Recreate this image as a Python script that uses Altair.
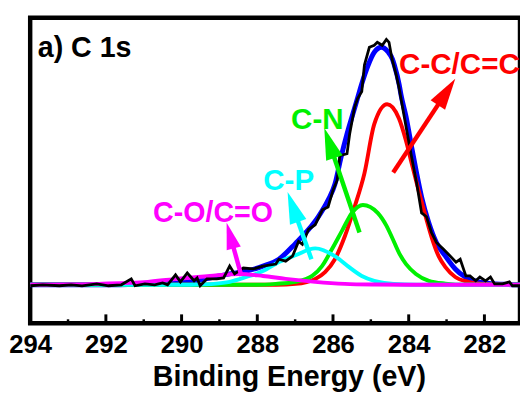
import math
import altair as alt
import pandas as pd

# ---------------- data ----------------
# measured spectrum (black)
raw_be = [294.0, 293.67, 293.23, 292.92, 292.63, 292.24, 291.93, 291.59, 291.33, 291.23,
          290.97, 290.71, 290.50, 290.37, 290.16, 290.03, 289.85, 289.67, 289.59, 289.51,
          289.33, 289.07, 288.89, 288.73, 288.60, 288.37, 288.11, 287.85, 287.51, 287.43,
          287.25, 287.07, 286.91, 286.81, 286.65, 286.47, 286.28, 286.13, 286.00, 285.89,
          285.82, 285.63, 285.56, 285.43, 285.35, 285.24, 285.17, 285.04, 284.91, 284.83,
          284.70, 284.59, 284.52, 284.44, 284.33, 284.25, 284.13, 284.05, 283.92, 283.79,
          283.66, 283.53, 283.40, 283.27, 283.08, 282.90, 282.75, 282.64, 282.49, 282.38,
          282.23, 282.12, 281.97, 281.84, 281.73, 281.52, 281.34, 281.26, 281.06]
raw_int = [-0.4, 0.0, -0.4, 0.0, -0.4, 0.4, -0.4, 0.0, 2.5, -0.4,
           0.4, 0.0, 0.8, 0.0, 4.2, 1.25, 5.0, 1.7, 2.9, -0.4,
           2.5, 2.5, 2.9, 7.9, 4.6, 7.1, 6.7, 7.9, 8.75, 10.8,
           10.0, 12.1, 18.3, 17.1, 23.3, 25.4, 31.7, 32.9, 40.0, 44.2,
           54.6, 55.4, 63.75, 75.0, 78.75, 81.7, 92.9, 100.4, 101.25, 102.5,
           101.25, 103.75, 102.5, 95.4, 88.75, 82.9, 72.1, 65.0, 53.75, 42.9,
           30.4, 28.75, 22.1, 17.9, 15.0, 12.1, 9.6, 10.8, 3.75, 3.75,
           1.7, 3.3, 1.7, 3.3, 0.4, 0.4, 1.25, -0.4, -0.4]

# fitted envelope (blue)
env_be = [294.0, 292.0, 291.0, 290.03, 289.59, 289.15, 288.73, 288.29, 287.85, 287.43,
          286.99, 286.65, 286.39, 286.13, 285.95, 285.79, 285.63, 285.48, 285.35, 285.24,
          285.08, 284.90, 284.72, 284.55, 284.43, 284.38, 284.25, 284.20, 284.07, 283.92,
          283.79, 283.66, 283.47, 283.27, 283.03, 282.77, 282.51, 282.25, 282.0, 281.5, 281.06]
env_int = [0.0, 0.0, 0.3, 0.8, 1.7, 3.3, 4.6, 5.8, 7.9, 10.8,
           17.5, 23.3, 28.75, 35.8, 42.5, 53.75, 63.75, 72.0, 79.0, 85.0,
           92.5, 98.5, 100.4, 98.5, 95.4, 92.9, 84.5, 80.0, 71.0, 58.0,
           47.1, 37.1, 26.25, 17.9, 12.1, 6.7, 3.3, 1.7, 0.8, 0.2, 0.0]

# C-C/C=C component (red)
cc_be = [294.0, 287.5, 286.99, 286.47, 286.21, 285.95, 285.69, 285.43, 285.17, 284.91,
         284.57, 284.26, 284.07, 283.92, 283.74, 283.55, 283.40, 283.21, 283.03, 282.77,
         282.43, 282.0, 281.06]
cc_int = [0.0, 0.0, 0.4, 2.5, 5.4, 10.8, 20.4, 32.9, 47.1, 67.9,
          76.3, 70.4, 60.8, 51.25, 40.0, 28.75, 20.4, 12.1, 7.5, 3.3,
          1.25, 0.3, 0.0]

# C-N component (green)
cn_be = [294.0, 288.0, 287.51, 286.99, 286.55, 286.29, 286.03, 285.76, 285.50, 285.21,
         284.82, 284.59, 284.44, 284.25, 284.07, 283.81, 283.47, 283.03, 282.5, 281.06]
cn_int = [0.0, 0.0, 0.4, 1.25, 3.75, 7.9, 15.0, 22.9, 30.4, 33.75,
          30.4, 25.0, 20.0, 13.3, 8.75, 4.6, 1.7, 0.5, 0.0, 0.0]

# C-P component (cyan)
cp_be = [294.0, 290.0, 289.59, 289.15, 288.73, 288.29, 287.85, 287.43, 286.99, 286.47,
         285.95, 285.61, 285.24, 284.91, 284.65, 284.1, 283.5, 281.06]
cp_int = [0.0, 0.0, 0.1, 0.4, 1.25, 3.3, 5.8, 9.6, 12.5, 15.4,
          12.1, 7.9, 3.75, 1.7, 0.8, 0.1, 0.0, 0.0]

# C-O/C=O component (magenta)
co_be = [294.0, 293.0, 292.19, 290.89, 290.11, 289.25, 288.47, 287.85, 287.25, 286.47,
         285.69, 284.9, 284.0, 281.06]
co_int = [0.0, 0.1, 0.4, 1.25, 2.5, 3.75, 4.6, 3.75, 2.5, 1.25,
          0.4, 0.1, 0.0, 0.0]

# annotations: label, text anchor (eV, intensity), arrow tail, arrow tip, colour
labels = ["C-C/C=C", "C-N", "C-P", "C-O/C=O"]
label_be = [282.66, 286.415, 287.17, 289.17]
label_int = [89.2, 65.8, 40.0, 26.7]
label_size = [30, 30, 30, 29]
tail_be = [284.41, 285.30, 286.57, 288.42]
tail_int = [47.5, 22.1, 10.8, 3.75]
tip_be = [282.77, 286.23, 287.20, 288.81]
tip_int = [87.1, 66.25, 39.2, 26.25]
label_colors = ["#ff0000", "#00f000", "#00ffff", "#ff00ff"]

panel_text = "a) C 1s"
major_ticks = [294, 292, 290, 288, 286, 284, 282]
minor_ticks = [293, 291, 289, 287, 285, 283, 281]

# ---------------- layout ----------------
X_MIN, X_MAX = 281.06, 294.0
Y_MIN, Y_MAX = -16.25, 112.9
W, H = 497, 310
PX_EV = W / (X_MAX - X_MIN)
PX_U = H / (Y_MAX - Y_MIN)
FONT = "Liberation Sans"

xs = alt.Scale(domain=[X_MIN, X_MAX], reverse=True, nice=False, zero=False)
ys = alt.Scale(domain=[Y_MIN, Y_MAX], nice=False, zero=False)

xaxis = alt.Axis(values=major_ticks, format="d", ticks=False, tickSize=0, domain=False,
                 grid=False, labelFont=FONT, labelFontSize=26, labelFontWeight="bold",
                 labelColor="black", labelPadding=9, labelFlush=False,
                 title="Binding Energy (eV)", titleFont=FONT, titleFontSize=29,
                 titleFontWeight="bold", titleColor="black", titleBaseline="alphabetic",
                 titleAlign="center", titleX=262.5, titleY=63)


def curve(be, val, color, width, interp):
    df = pd.DataFrame({"be": be, "val": val})
    return alt.Chart(df).mark_line(color=color, strokeWidth=width, interpolate=interp,
                                   clip=True).encode(
        x=alt.X("be:Q", scale=xs, axis=xaxis),
        y=alt.Y("val:Q", scale=ys, axis=None),
    )


layers = [
    curve(env_be, env_int, "#0000ff", 5, "monotone"),
    curve(cc_be, cc_int, "#ff0000", 4, "monotone"),
    curve(cn_be, cn_int, "#00f000", 4, "monotone"),
    curve(cp_be, cp_int, "#00ffff", 4, "monotone"),
    curve(co_be, co_int, "#ff00ff", 4, "monotone"),
    curve(raw_be, raw_int, "black", 2.8, "linear"),
]

# inward ticks
tick_major = alt.Chart(pd.DataFrame({"t": major_ticks})).mark_rule(
    color="black", strokeWidth=3).encode(
    x=alt.X("t:Q", scale=xs), y=alt.value(H), y2=alt.value(H - 9))
tick_minor = alt.Chart(pd.DataFrame({"t": minor_ticks})).mark_rule(
    color="black", strokeWidth=2.5).encode(
    x=alt.X("t:Q", scale=xs), y=alt.value(H), y2=alt.value(H - 4))
layers += [tick_major, tick_minor]

# arrows
HEAD = [32, 32, 32, 27]
for i in range(len(labels)):
    dx = -(tip_be[i] - tail_be[i]) * PX_EV
    dy = -(tip_int[i] - tail_int[i]) * PX_U
    ln = math.hypot(dx, dy)
    ux, uy = dx / ln, dy / ln
    ang = math.degrees(math.atan2(ux, -uy)) % 360
    L = HEAD[i]
    base_be = tip_be[i] + 0.85 * L * ux / PX_EV
    base_int = tip_int[i] + 0.85 * L * uy / PX_U
    cen_be = tip_be[i] + 0.5 * L * ux / PX_EV
    cen_int = tip_int[i] + 0.5 * L * uy / PX_U
    seg = pd.DataFrame({"x1": [tail_be[i]], "y1": [tail_int[i]],
                        "x2": [base_be], "y2": [base_int]})
    layers.append(alt.Chart(seg).mark_rule(color=label_colors[i], strokeWidth=4.5).encode(
        x=alt.X("x1:Q", scale=xs), y=alt.Y("y1:Q", scale=ys),
        x2="x2:Q", y2="y2:Q"))
    hd = pd.DataFrame({"x": [cen_be], "y": [cen_int]})
    layers.append(alt.Chart(hd).mark_point(
        shape="M0,-1L0.55,1L-0.55,1Z", size=L * L, angle=ang, filled=True,
        color=label_colors[i], opacity=1, strokeWidth=0).encode(
        x=alt.X("x:Q", scale=xs), y=alt.Y("y:Q", scale=ys)))

lab_df = pd.DataFrame({"be": label_be, "val": label_int, "txt": labels, "col": label_colors})
for i in range(len(labels)):
    layers.append(alt.Chart(lab_df.iloc[[i]]).mark_text(
        font=FONT, fontSize=label_size[i], fontWeight="bold", align="center",
        baseline="alphabetic", color=label_colors[i]).encode(
        x=alt.X("be:Q", scale=xs), y=alt.Y("val:Q", scale=ys), text="txt:N"))

panel_df = pd.DataFrame({"be": [293.80], "val": [96.25], "txt": [panel_text]})
layers.append(alt.Chart(panel_df).mark_text(
    font=FONT, fontSize=29, fontWeight="bold", align="left", baseline="alphabetic",
    color="black").encode(
    x=alt.X("be:Q", scale=xs), y=alt.Y("val:Q", scale=ys), text="txt:N"))

chart = alt.layer(*layers).properties(
    width=W, height=H,
    autosize=alt.AutoSizeParams(type="none"),
    padding={"left": 22.5, "top": 7, "right": 0, "bottom": 74},
    background="white",
).configure_view(stroke="black", strokeWidth=4.5)

chart.save("out.html", embed_options={"renderer": "svg", "actions": False})
